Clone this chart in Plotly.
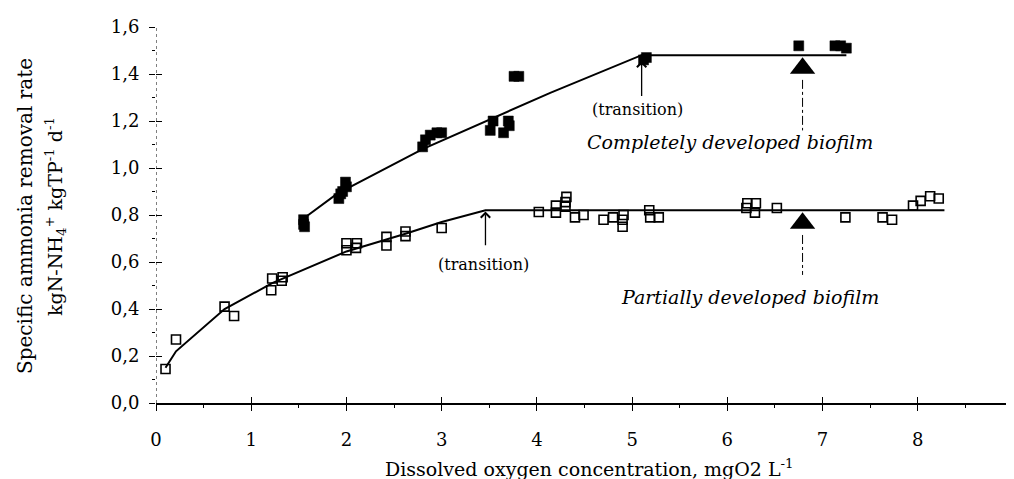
import plotly.graph_objects as go

# ---- data ----
partial_x = [0.10, 0.21, 0.72, 0.82, 1.21, 1.22, 1.32, 1.33, 2.00, 2.00, 2.10, 2.11, 2.42, 2.42,
             2.62, 2.62, 3.00, 4.02, 4.20, 4.20, 4.30, 4.30, 4.31, 4.40, 4.49, 4.70, 4.80, 4.90,
             4.90, 4.91, 5.18, 5.19, 5.28, 6.20, 6.21, 6.29, 6.30, 6.52, 7.24, 7.63, 7.73,
             7.95, 8.03, 8.13, 8.22]
partial_y = [0.145, 0.27, 0.41, 0.37, 0.48, 0.53, 0.52, 0.535, 0.65, 0.68, 0.66, 0.68, 0.67, 0.707,
             0.71, 0.73, 0.745, 0.813, 0.81, 0.84, 0.835, 0.855, 0.877, 0.79, 0.80, 0.78, 0.79, 0.75,
             0.78, 0.80, 0.82, 0.79, 0.79, 0.83, 0.85, 0.81, 0.85, 0.83, 0.79, 0.79, 0.78,
             0.84, 0.86, 0.88, 0.87]

complete_x = [1.55, 1.55, 1.56, 1.92, 1.94, 1.96, 1.99, 2.00, 2.80, 2.83, 2.88, 2.95, 3.00,
              3.51, 3.54, 3.65, 3.70, 3.71, 3.76, 3.81, 5.12, 5.15, 6.75, 7.13, 7.19, 7.25]
complete_y = [0.78, 0.76, 0.75, 0.87, 0.89, 0.90, 0.94, 0.92, 1.09, 1.12, 1.14, 1.15, 1.15,
              1.16, 1.20, 1.15, 1.20, 1.18, 1.39, 1.39, 1.46, 1.47, 1.52, 1.52, 1.52, 1.51]

partial_fit_x = [0.10, 0.21, 0.72, 1.22, 2.00, 2.62, 3.00, 3.46, 8.28]
partial_fit_y = [0.15, 0.22, 0.40, 0.51, 0.645, 0.72, 0.77, 0.82, 0.82]

complete_fit_x = [1.55, 1.90, 2.80, 3.60, 4.14, 5.10, 7.25]
complete_fit_y = [0.785, 0.89, 1.08, 1.225, 1.32, 1.48, 1.48]

triangle_x = [6.79, 6.79]
triangle_y = [1.425, 0.765]

x_ticks = [0, 1, 2, 3, 4, 5, 6, 7, 8, 9]
y_ticks = [0.0, 0.2, 0.4, 0.6, 0.8, 1.0, 1.2, 1.4, 1.6]

FONT = "DejaVu Serif"

fig = go.Figure()

fig.add_trace(go.Scatter(x=partial_fit_x, y=partial_fit_y, mode="lines",
                         line=dict(color="black", width=2), showlegend=False))
fig.add_trace(go.Scatter(x=complete_fit_x, y=complete_fit_y, mode="lines",
                         line=dict(color="black", width=2), showlegend=False))
fig.add_trace(go.Scatter(x=partial_x, y=partial_y, mode="markers",
                         marker=dict(symbol="square-open", size=9, color="black",
                                     line=dict(width=1.6, color="black")),
                         showlegend=False))
fig.add_trace(go.Scatter(x=complete_x, y=complete_y, mode="markers",
                         marker=dict(symbol="square", size=10, color="black",
                                     line=dict(width=0.5, color="black")),
                         showlegend=False))
fig.add_trace(go.Scatter(x=triangle_x, y=triangle_y, mode="markers",
                         marker=dict(symbol="triangle-up", size=22, color="black"),
                         showlegend=False))
# helper trace for the overlay axes (crossing ticks)
fig.add_trace(go.Scatter(x=[0], y=[0], xaxis="x2", yaxis="y2", mode="markers",
                         marker=dict(opacity=0), showlegend=False, hoverinfo="skip"))

tickfont = dict(family=FONT, size=18, color="black")

# page body has an 8px margin: size the figure so it ends at the window edge
fig.update_layout(
    width=1006, height=471,
    paper_bgcolor="white", plot_bgcolor="white",
    margin=dict(l=148, r=1, t=19, b=76),
    separators=", ",
    font=dict(family=FONT, color="black"),
    xaxis=dict(range=[0, 9], tickvals=x_ticks, ticks="outside", ticklen=6, tickwidth=1.2,
               tickcolor="black", showline=True, linecolor="black", linewidth=2,
               showgrid=False, zeroline=False, tickfont=tickfont, ticklabelstandoff=13,
               ticklabeloverflow="allow", automargin=False,
               minor=dict(ticks="outside", dtick=0.5, ticklen=3, tickcolor="black", showgrid=False)),
    yaxis=dict(range=[0, 1.6], tickvals=y_ticks, tickformat=".1f", ticks="outside", ticklen=6,
               tickwidth=1.2, tickcolor="black", showline=False, showgrid=False, zeroline=False,
               tickfont=tickfont, ticklabelstandoff=6, ticklabeloverflow="allow", automargin=False,
               minor=dict(ticks="outside", dtick=0.1, ticklen=3, tickcolor="black", showgrid=False)),
    xaxis2=dict(range=[0, 9], overlaying="x", anchor="y", side="bottom", tickvals=x_ticks,
                ticks="inside", ticklen=6, tickwidth=1.2, tickcolor="black", automargin=False,
                showticklabels=False, showgrid=False, zeroline=False, showline=False),
    yaxis2=dict(range=[0, 1.6], overlaying="y", anchor="x", side="left", tickvals=y_ticks,
                ticks="inside", ticklen=6, tickwidth=1.2, tickcolor="black", automargin=False,
                showticklabels=False, showgrid=False, zeroline=False, showline=False),
)

# dotted y-axis line
fig.add_shape(type="line", xref="x", yref="y", x0=0, x1=0, y0=0, y1=1.6,
              line=dict(color="black", width=1, dash="dot"))
# dash-dot pointers below the triangles
fig.add_shape(type="line", xref="x", yref="y", x0=6.79, x1=6.79, y0=1.375, y1=1.16,
              line=dict(color="black", width=1, dash="dashdot"))
fig.add_shape(type="line", xref="x", yref="y", x0=6.79, x1=6.79, y0=0.715, y1=0.545,
              line=dict(color="black", width=1, dash="dashdot"))

# transition arrows
for (xa, y_head, y_tail) in [(5.10, 1.455, 1.30), (3.46, 0.815, 0.665)]:
    fig.add_annotation(x=xa, y=y_head, ax=xa, ay=y_tail, xref="x", yref="y",
                       axref="x", ayref="y", text="", showarrow=True,
                       arrowhead=4, arrowsize=1.4, arrowwidth=1.3, arrowcolor="black")

fig.add_annotation(x=5.06, y=1.247, xref="x", yref="y", text="(transition)", showarrow=False,
                   xanchor="center", font=dict(family=FONT, size=16, color="black"))
fig.add_annotation(x=3.44, y=0.59, xref="x", yref="y", text="(transition)", showarrow=False,
                   xanchor="center", font=dict(family=FONT, size=16, color="black"))
fig.add_annotation(x=6.03, y=1.11, xref="x", yref="y", text="<i>Completely developed biofilm</i>",
                   showarrow=False, xanchor="center", font=dict(family=FONT, size=19, color="black"))
fig.add_annotation(x=6.24, y=0.451, xref="x", yref="y", text="<i>Partially developed biofilm</i>",
                   showarrow=False, xanchor="center", font=dict(family=FONT, size=19, color="black"))

# axis titles
fig.add_annotation(x=0.505, y=-0.173, xref="paper", yref="paper",
                   text="Dissolved oxygen concentration, mgO2 L<sup>-1</sup>",
                   showarrow=False, xanchor="center", yanchor="middle",
                   font=dict(family=FONT, size=19, color="black"))
fig.add_annotation(x=-0.153, y=0.497, xref="paper", yref="paper", textangle=-90,
                   text="Specific ammonia removal rate", showarrow=False,
                   xanchor="center", yanchor="middle",
                   font=dict(family=FONT, size=20, color="black"))
fig.add_annotation(x=-0.118, y=0.497, xref="paper", yref="paper", textangle=-90,
                   text="kgN-NH<sub>4</sub><sup>+</sup> kgTP<sup>-1</sup> d<sup>-1</sup>",
                   showarrow=False, xanchor="center", yanchor="middle",
                   font=dict(family=FONT, size=19, color="black"))

fig.write_html("out.html")
